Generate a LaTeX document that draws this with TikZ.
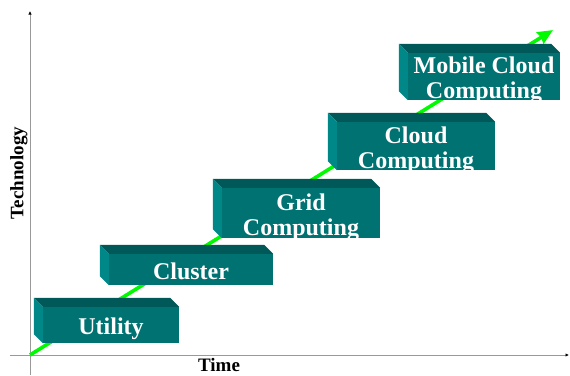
\documentclass[tikz,border=0pt]{standalone}
\usepackage{fontspec}
\setmainfont{Liberation Serif}
\usetikzlibrary{arrows.meta}

\definecolor{slabfront}{RGB}{0,114,114}
\definecolor{slabtop}{RGB}{0,88,88}
\definecolor{slabside}{RGB}{0,136,136}
\definecolor{trend}{RGB}{0,250,0}

\begin{document}
\begin{tikzpicture}[x=1pt,y=-1pt,
  slab/.style={fill=slabfront,inner sep=0pt},
  slabtext/.style={text=white,inner sep=0pt,align=center,yshift=-4pt,
    font=\fontsize{24}{25}\selectfont\bfseries},
  axis/.style={draw=gray!80,line width=0.9pt,-{Latex[length=3.5pt,width=3.5pt,black]}},
  axislabel/.style={font=\fontsize{19}{22}\selectfont\bfseries}]
\useasboundingbox (0,0) rectangle (570,375);
% axes
\coordinate (org) at (30,355);
\coordinate (xleft) at (10,355);
\coordinate (xright) at (569,355);
\coordinate (ybottom) at (30,375);
\coordinate (ytop) at (30,11);
\draw[axis] (xleft) -- (xright);
\draw[axis] (ybottom) -- (ytop);
\node[axislabel] (time) at (219,365) {Time};
\node[axislabel,rotate=90] (tech) at (19,173) {Technology};
% trend line, behind the boxes
\coordinate (tip) at (553,30);
\draw[trend,line width=3.6pt,-{Stealth[length=15pt,width=13pt,inset=1pt]}] (org) -- (tip);
% front faces
\node[slab,minimum width=136pt,minimum height=36pt,
  label={[slabtext]center:Utility}] (util) at (111,325) {};
\node[slab,minimum width=164pt,minimum height=31pt,
  label={[slabtext,yshift=2pt]center:Cluster}] (clus) at (191,269.5) {};
\node[slab,minimum width=158pt,minimum height=50pt,
  label={[slabtext]center:{Grid\\Computing}}] (grid) at (301,213) {};
\node[slab,minimum width=158pt,minimum height=48pt,
  label={[slabtext]center:{Cloud\\Computing}}] (cloud) at (416,146) {};
\node[slab,minimum width=152pt,minimum height=47pt,
  label={[slabtext]center:{Mobile Cloud\\Computing}}] (mob) at (484,76.5) {};
% top and left faces
\foreach \n in {util,clus,grid,cloud,mob} {
  \fill[slabtop] (\n.north west) -- (\n.north east) -- ([shift={(-9,-9)}]\n.north east)
    -- ([shift={(-9,-9)}]\n.north west) -- cycle;
  \fill[slabside] (\n.north west) -- (\n.south west) -- ([shift={(-9,-9)}]\n.south west)
    -- ([shift={(-9,-9)}]\n.north west) -- cycle;
}
\end{tikzpicture}
\end{document}
